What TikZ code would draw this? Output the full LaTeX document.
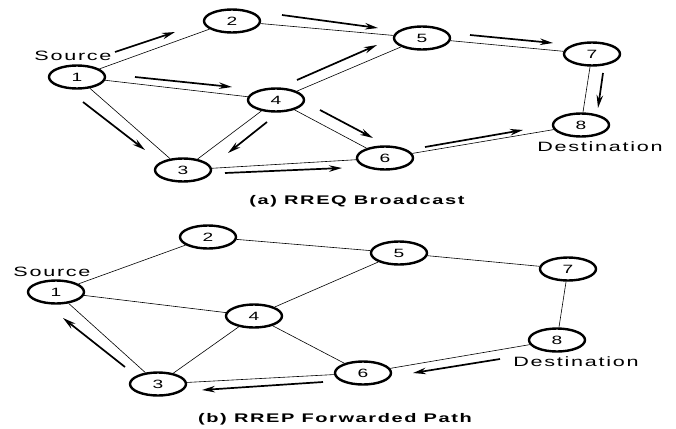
\documentclass[tikz,border=0pt]{standalone}
\usepackage{fontspec}
\setmainfont{Liberation Sans}
\newfontfamily\lsfont[LetterSpace=8]{Liberation Sans}
\usetikzlibrary{shapes.geometric,arrows.meta}
\newcommand{\wide}[1]{\scalebox{1.6}[1]{#1}}
\begin{document}
\begin{tikzpicture}[x=1pt,y=-1pt,
  nd/.style={draw,ellipse,line width=2.4pt,minimum width=56pt,minimum height=23pt,inner sep=0pt,font=\fontsize{12}{12}\selectfont},
  edge/.style={line width=0.6pt},
  flow/.style={line width=1.7pt,-{Stealth[length=13pt,width=6.5pt]}},
  lbl/.style={inner sep=0pt,font=\fontsize{13.5}{14}\selectfont\lsfont},
  captext/.style={inner sep=0pt,font=\fontsize{12.5}{14}\selectfont\lsfont\bfseries}]
\useasboundingbox (0,0) rectangle (676,428);
% ---------- (a) ----------
\node[nd] (n1) at (77,77) {\wide{1}};
\node[nd] (n2) at (232,21) {\wide{2}};
\node[nd] (n3) at (183,170) {\wide{3}};
\node[nd] (n4) at (276,100) {\wide{4}};
\node[nd] (n5) at (422,38) {\wide{5}};
\node[nd] (n6) at (385,158) {\wide{6}};
\node[nd] (n7) at (592,54) {\wide{7}};
\node[nd] (n8) at (581,125) {\wide{8}};
\node[lbl] (s1) at (73,56) {\wide{Source}};
\node[lbl] (d1) at (600,147) {\wide{Destination}};
\node[captext] (ca) at (357,201) {\wide{(a) RREQ Broadcast}};
\foreach \a/\b in {n1/n2,n1/n4,n1/n3,n2/n5,n4/n5,n4/n3,n4/n6,n3/n6,n5/n7,n7/n8,n6/n8}
  \draw[edge] (\a) -- (\b);
\coordinate (p12a) at (115,52);  \coordinate (p12b) at (175,32);
\coordinate (p14a) at (135,77);  \coordinate (p14b) at (232,87);
\coordinate (p13a) at (83,102);  \coordinate (p13b) at (145,150);
\coordinate (p43a) at (267,122); \coordinate (p43b) at (228,153);
\coordinate (p36a) at (225,173); \coordinate (p36b) at (342,168);
\coordinate (p45a) at (297,80);  \coordinate (p45b) at (377,45);
\coordinate (p25a) at (282,15);  \coordinate (p25b) at (378,28);
\coordinate (p46a) at (320,110); \coordinate (p46b) at (373,138);
\coordinate (p57a) at (470,35);  \coordinate (p57b) at (553,43);
\coordinate (p78a) at (603,73);  \coordinate (p78b) at (598,108);
\coordinate (p68a) at (425,147); \coordinate (p68b) at (523,130);
\foreach \p in {12,14,13,43,36,45,25,46,57,78,68}
  \draw[flow] (p\p a) -- (p\p b);
% ---------- (b) ----------
\node[nd] (m1) at (56,292) {\wide{1}};
\node[nd] (m2) at (208,237) {\wide{2}};
\node[nd] (m3) at (158,384) {\wide{3}};
\node[nd] (m4) at (254,316) {\wide{4}};
\node[nd] (m5) at (399,253) {\wide{5}};
\node[nd] (m6) at (363,373) {\wide{6}};
\node[nd] (m7) at (568,269) {\wide{7}};
\node[nd] (m8) at (557,340) {\wide{8}};
\node[lbl] (s2) at (52,272) {\wide{Source}};
\node[lbl] (d2) at (576,362) {\wide{Destination}};
\node[captext] (cb) at (335,419) {\wide{(b) RREP Forwarded Path}};
\foreach \a/\b in {m1/m2,m1/m4,m1/m3,m2/m5,m4/m5,m4/m3,m4/m6,m3/m6,m5/m7,m7/m8,m6/m8}
  \draw[edge] (\a) -- (\b);
\coordinate (q31a) at (125,367); \coordinate (q31b) at (63,318);
\coordinate (q63a) at (323,382); \coordinate (q63b) at (202,390);
\coordinate (q86a) at (500,359); \coordinate (q86b) at (413,373);
\foreach \p in {31,63,86}
  \draw[flow] (q\p a) -- (q\p b);
\end{tikzpicture}
\end{document}
